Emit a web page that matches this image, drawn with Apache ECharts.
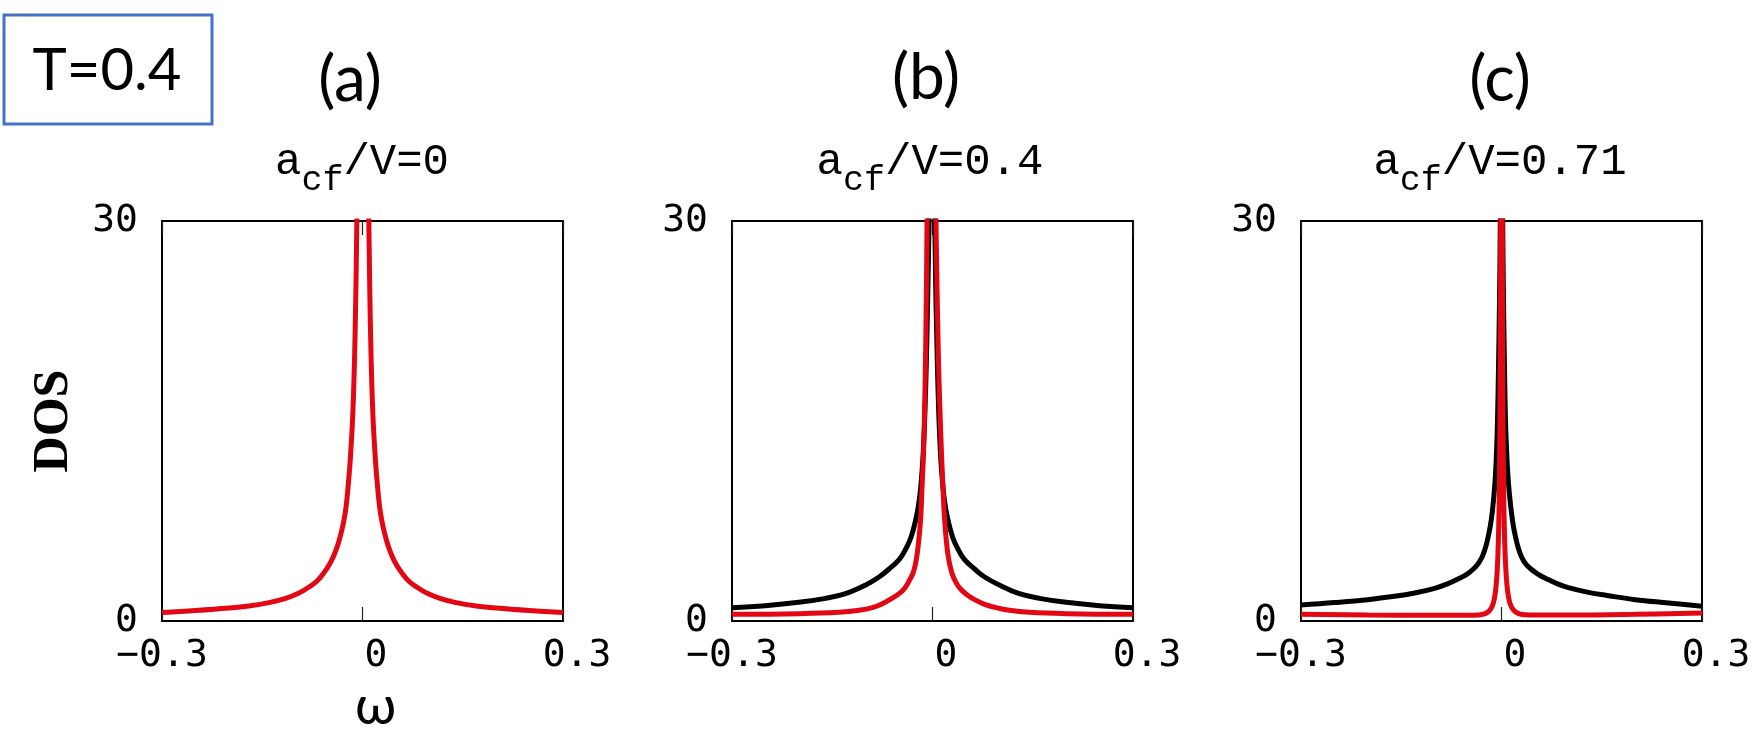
<!DOCTYPE html>
<html><head><meta charset="utf-8">
<script src="https://cdn.jsdelivr.net/npm/echarts@6/dist/echarts.min.js"></script>
<style>html,body{margin:0;padding:0;background:#fff}#c{width:1755px;height:748px}</style>
</head><body><div id="c"></div>
<script>
// ---- data ----
const xTicks = [-0.3, 0, 0.3];
const yTicks = [0, 30];
const panelLabels = ['(a)', '(b)', '(c)'];
const ratioLabels = ['0', '0.4', '0.71'];
const tempLabel = 'T=0.4';

// panel (a): a_cf/V = 0
const aRedW = [-0.3,-0.25,-0.2,-0.17,-0.14,-0.115,-0.095,-0.08,-0.068,-0.058,-0.05,-0.043,-0.037,-0.032,-0.028,-0.0245,-0.0217,-0.019,-0.0168,-0.0147,-0.0128,-0.0113,-0.01,-0.009,-0.008,-0.0065,0,0.0075,0.009,0.01,0.011,0.0123,0.0138,0.0157,0.0178,0.02,0.0227,0.0255,0.029,0.033,0.038,0.044,0.051,0.059,0.069,0.081,0.096,0.116,0.14,0.17,0.2,0.25,0.3];
const aRedD = [0.63,0.78,0.97,1.13,1.38,1.7,2.1,2.55,3.0,3.6,4.2,4.9,5.7,6.6,7.5,8.6,10,11.6,13.3,15.3,18,21,24.5,28,32,40,80,40,32,28,24.5,21,18,15.3,13.3,11.6,10,8.6,7.5,6.6,5.7,4.9,4.2,3.6,3.0,2.55,2.1,1.7,1.38,1.13,0.97,0.78,0.63];

// panel (b): a_cf/V = 0.4
const bBlkW = [-0.3,-0.25,-0.2,-0.16,-0.13,-0.1,-0.08,-0.065,-0.05,-0.04,-0.032,-0.025,-0.02,-0.016,-0.013,-0.0105,-0.0085,-0.0065,-0.0045,-0.001,0.003,0.0045,0.0065,0.0085,0.011,0.014,0.018,0.023,0.03,0.038,0.048,0.063,0.078,0.1,0.13,0.16,0.2,0.25,0.3];
const bBlkD = [1.0,1.15,1.4,1.7,2.05,2.7,3.3,3.9,4.6,5.4,6.3,7.6,9.0,11,13.5,17,21,26,32,45,32,26,21,17,13.5,11,9.0,7.6,6.3,5.4,4.6,3.9,3.3,2.7,2.05,1.7,1.4,1.15,1.0];
const bRedW = [-0.3,-0.2,-0.14,-0.11,-0.09,-0.075,-0.061,-0.05,-0.041,-0.034,-0.028,-0.023,-0.018,-0.0157,-0.0135,-0.0122,-0.0108,-0.0097,-0.0088,-0.0078,-0.0015,0.0045,0.0058,0.0075,0.0095,0.0117,0.0135,0.0157,0.018,0.023,0.029,0.035,0.042,0.052,0.063,0.078,0.095,0.115,0.145,0.2,0.3];
const bRedD = [0.5,0.55,0.65,0.8,1.0,1.3,1.7,2.05,2.5,3.1,3.75,5.0,7.5,10,12.5,15,18.5,22.5,26.5,32,60,33,28,23,18.5,15,12.5,10,7.7,5.0,3.6,2.9,2.4,1.95,1.6,1.25,1.0,0.8,0.65,0.55,0.5];

// panel (c): a_cf/V = 0.71
const cBlkW = [-0.3,-0.25,-0.2,-0.16,-0.13,-0.1,-0.08,-0.065,-0.052,-0.042,-0.035,-0.029,-0.024,-0.02,-0.0165,-0.0135,-0.011,-0.009,-0.0075,-0.006,-0.0045,-0.003,-0.0018,0,0.0018,0.003,0.0045,0.006,0.0078,0.0095,0.0117,0.0145,0.0175,0.021,0.025,0.03,0.036,0.044,0.055,0.068,0.083,0.1,0.13,0.16,0.2,0.25,0.3];
const cBlkD = [1.2,1.38,1.6,1.85,2.1,2.45,2.8,3.15,3.5,3.9,4.3,4.8,5.5,6.3,7.2,8.3,9.6,11,12.6,15,19,24,30,45,30,24,19,15,12.6,11,9.6,8.3,7.2,6.3,5.5,4.8,4.3,3.9,3.5,3.15,2.8,2.5,2.15,1.9,1.6,1.35,1.1];
const cRedW = [-0.3,-0.2,-0.1,-0.05,-0.035,-0.027,-0.021,-0.017,-0.0135,-0.011,-0.0088,-0.007,-0.0055,-0.0042,-0.0031,-0.0022,-0.0014,-0.0008,0,0.0008,0.0014,0.0022,0.0031,0.0042,0.0056,0.0072,0.009,0.0113,0.014,0.0175,0.022,0.028,0.036,0.05,0.1,0.2,0.3];
const cRedD = [0.5,0.45,0.43,0.43,0.45,0.52,0.65,0.85,1.15,1.6,2.3,3.3,4.8,7.0,10.5,16,25,38,60,38,25,16,10.5,7.0,4.8,3.3,2.3,1.6,1.15,0.85,0.65,0.52,0.47,0.45,0.45,0.5,0.6];

// ---- building the chart ----
const pairs = (w, d) => w.map((x, i) => [x, d[i]]);
const panels = [
  {black: null, red: pairs(aRedW, aRedD)},
  {black: pairs(bBlkW, bBlkD), red: pairs(bRedW, bRedD)},
  {black: pairs(cBlkW, cBlkD), red: pairs(cRedW, cRedD)}
];
const gridLeft = [162, 732, 1301];
const GT = 221, GW = 401, GH = 400;
const RED = '#e30613';
const TICKFONT = 'DejaVu Sans Mono';

const grid = [], xAxis = [], yAxis = [], series = [];
panels.forEach((p, i) => {
  grid.push({left: gridLeft[i], top: GT, width: GW, height: GH, show: true,
    borderColor: '#000', borderWidth: 2, backgroundColor: 'transparent'});
  xAxis.push({
    type: 'value', gridIndex: i, position: 'bottom', min: xTicks[0], max: xTicks[2], interval: 0.3,
    axisLine: {show: false}, splitLine: {show: false},
    axisTick: {show: true, inside: true, length: 14, lineStyle: {color: '#222', width: 1.2}},
    axisLabel: {
      show: true, margin: 35, showMinLabel: true, showMaxLabel: true, verticalAlign: 'middle',
      fontFamily: TICKFONT, fontSize: 38, color: '#000',
      formatter: v => Math.abs(v) < 1e-9 ? '{z|0}' : (v < 0 ? '{m|\u22120.3}' : '{p|0.3}'),
      rich: {
        z: {fontFamily: TICKFONT, fontSize: 38, color: '#000', padding: [0, 0, 0, 27]},
        p: {fontFamily: TICKFONT, fontSize: 38, color: '#000', padding: [0, 0, 0, 28]},
        m: {fontFamily: TICKFONT, fontSize: 38, color: '#000'}
      }
    },
    name: i === 0 ? '\u03c9' : '', nameLocation: 'middle', nameGap: 78,
    nameTextStyle: {fontFamily: 'Lato', fontSize: 54, color: '#000', verticalAlign: 'middle', padding: [0, 0, 0, 26]}
  });
  xAxis.push({
    type: 'value', gridIndex: i, position: 'top', min: xTicks[0], max: xTicks[2], interval: 0.3,
    axisLine: {show: false}, splitLine: {show: false}, axisLabel: {show: false},
    axisTick: {show: true, inside: true, length: 14, lineStyle: {color: '#222', width: 1.2}}
  });
  yAxis.push({
    type: 'value', gridIndex: i, min: yTicks[0], max: yTicks[1], interval: 30,
    axisLine: {show: false}, axisTick: {show: false}, splitLine: {show: false},
    axisLabel: {show: true, margin: 24, fontFamily: TICKFONT, fontSize: 38, color: '#000', showMinLabel: true, showMaxLabel: true},
    name: i === 0 ? 'DOS' : '', nameLocation: 'middle', nameGap: 108, nameRotate: 90,
    nameTextStyle: {fontFamily: 'Liberation Serif', fontWeight: 'bold', fontSize: 50, color: '#000', align: 'center', verticalAlign: 'middle'}
  });
  const common = {type: 'line', xAxisIndex: 2 * i, yAxisIndex: i, showSymbol: false, symbol: 'none',
    smooth: 0.4, clip: true, animation: false, silent: true};
  if (p.black) series.push(Object.assign({}, common, {name: 'black' + i, data: p.black, z: 2,
    lineStyle: {color: '#000', width: 5}}));
  series.push(Object.assign({}, common, {name: 'red' + i, data: p.red, z: 3,
    lineStyle: {color: RED, width: 5}}));
});

const panelCx = [350, 926, 1500];
const panelCy = [80, 78, 80];
const subCx = [362, 930, 1500];
const graphic = [
  {type: 'rect', shape: {x: 4, y: 15, width: 208, height: 109},
   style: {fill: 'none', stroke: '#4472c4', lineWidth: 3}},
  {type: 'text', x: 107, y: 71, style: {text: tempLabel, font: '58px Lato', fill: '#000', align: 'center', verticalAlign: 'middle'}}
];
panelLabels.forEach((t, i) => {
  graphic.push({type: 'text', x: panelCx[i], y: panelCy[i],
    style: {text: t, font: '64px Lato', fill: '#000', align: 'center', verticalAlign: 'middle'}});
  graphic.push({type: 'text', x: subCx[i], y: 162,
    style: {
      text: '{a|a}{s|cf}{a|/V=' + ratioLabels[i] + '}', align: 'center', verticalAlign: 'middle', fill: '#000',
      rich: {
        a: {fontFamily: 'Liberation Mono', fontSize: 44, fill: '#000'},
        s: {fontFamily: 'Liberation Mono', fontSize: 35, fill: '#000', padding: [37, 0, 0, 0]}
      }
    }});
});

const chart = echarts.init(document.getElementById('c'));
chart.setOption({animation: false, backgroundColor: '#fff', grid, xAxis, yAxis, series, graphic});
</script></body></html>
